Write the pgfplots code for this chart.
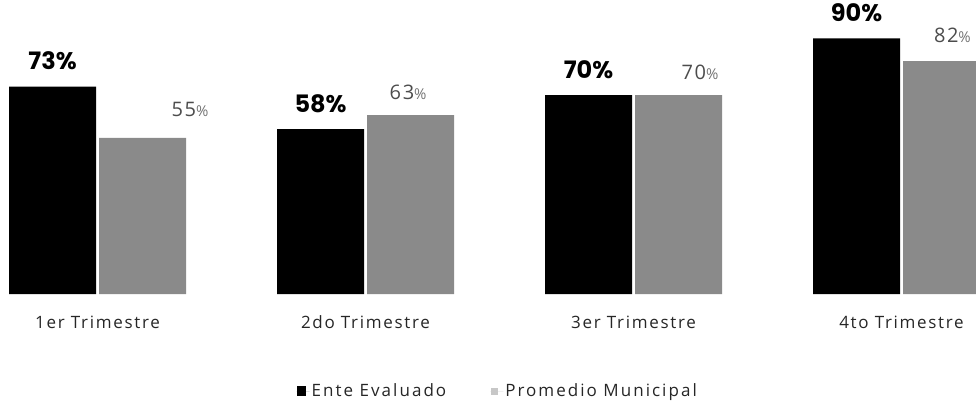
\documentclass[border=0pt]{standalone}
\usepackage{pgfplots}
\pgfplotsset{compat=1.18}
\usetikzlibrary{calc}
\usepackage{fontspec}
\setmainfont{Open Sans}
\newfontfamily\spaced[LetterSpace=10]{Open Sans}
\newfontfamily\wide[LetterSpace=12]{Open Sans}
\newfontfamily\valfont[LetterSpace=8]{Open Sans}
\newfontfamily\boldnum{Poppins}[BoldFont={* Bold}]
\definecolor{barblack}{RGB}{0,0,0}
\definecolor{bargray}{RGB}{138,138,138}
\newcommand{\pc}{{\fontsize{15}{17}\selectfont\color{black!55}\%}}

\begin{document}
\begin{tikzpicture}
\begin{axis}[
    name=ax,
    scale only axis,
    width=976pt,
    height=294pt,
    xmin=-0.364, xmax=3.278,
    ymin=0, ymax=103.5,
    axis line style={draw=none},
    major tick style={draw=none},
    ytick=\empty,
    xtick={0,1,2,3},
    xticklabels={1er Trimestre,2do Trimestre,3er Trimestre,4to Trimestre},
    xticklabel style={font=\spaced\fontsize{17}{20}\selectfont, text=black!85, yshift=-18pt},
    legend columns=2,
    legend style={draw=none, at={(axis description cs:0.51,-0.33)}, anchor=center,
        font=\wide\fontsize{17}{20}\selectfont, text=black!85,
        /tikz/every even column/.append style={column sep=42pt}},
    legend image code/.code={\path (0pt,0pt) -- (13pt,0pt);\fill[#1] (0pt,-5pt) rectangle (9pt,5pt);},
    clip=true,
]
\addplot[ybar, bar width=87pt, bar shift=-45pt, fill=barblack, draw=none,
    point meta=explicit symbolic, nodes near coords,
    every node near coord/.append style={font=\boldnum\bfseries\fontsize{24}{28}\selectfont, text=black, anchor=south, xshift=-45pt, yshift=13pt}]
    coordinates {(0,73) [73\%] (1,58) [58\%] (2,70) [70\%] (3,90) [90\%]};
\addlegendentry{Ente Evaluado}
\addplot[ybar, bar width=87pt, bar shift=45pt, fill=bargray, draw=none,
    legend image code/.code={\path (0pt,0pt) -- (13pt,0pt);\fill[black!22] (1pt,-3.5pt) rectangle (8pt,3.5pt);}]
    coordinates {(0,55) (1,63) (2,70) (3,82)};
\addlegendentry{Promedio Municipal}
% labels of the municipal average, set off to the side as in the source
\addplot[draw=none, mark=none, forget plot, point meta=explicit symbolic,
    nodes near coords,
    every node near coord/.append style={font=\valfont\fontsize{20}{23}\selectfont, text=black!70, anchor=center}]
    coordinates {(0.345,64.8) [55\pc] (1.159,71.1) [63\pc] (2.248,78.2) [70\pc] (3.19,91.2) [82\pc]};
\end{axis}
\pgfresetboundingbox
\path (ax.south west) ++(0,-113pt) rectangle ($(ax.south west)+(976pt,294pt)$);
\end{tikzpicture}
\end{document}
